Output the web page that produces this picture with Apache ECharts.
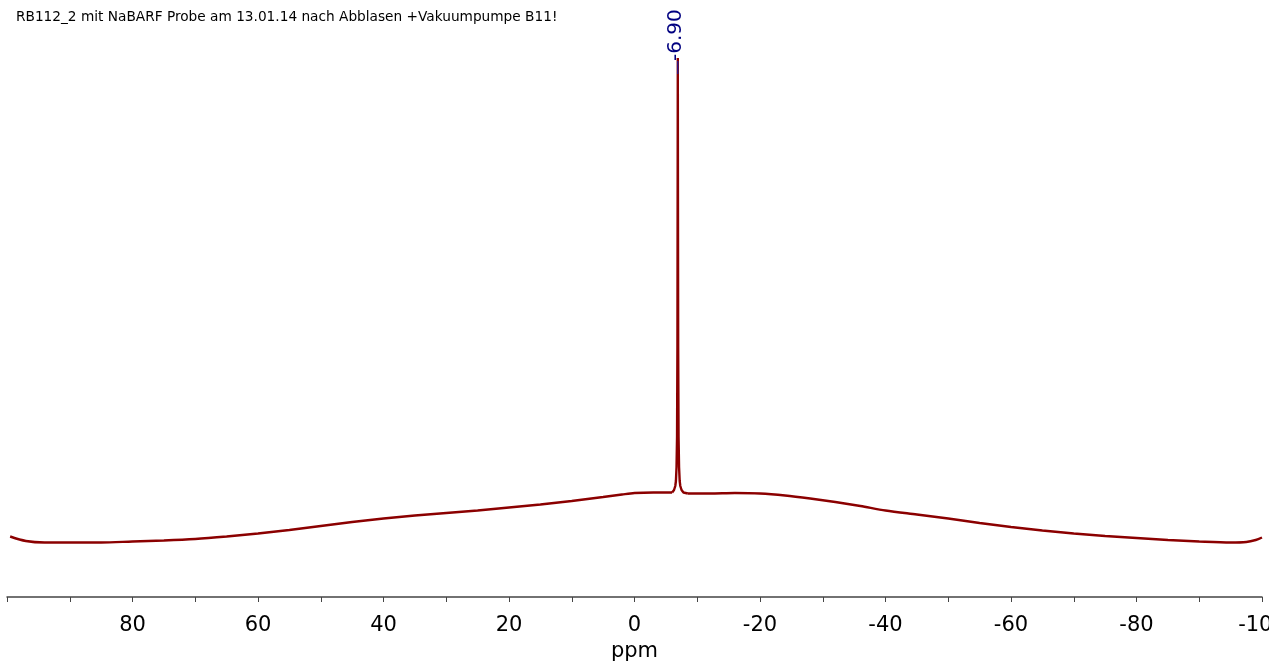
<!DOCTYPE html>
<html>
<head>
<meta charset="utf-8">
<title>B11 NMR</title>
<script src="https://cdn.jsdelivr.net/npm/echarts@6/dist/echarts.min.js"></script>
<style>
  html, body { margin: 0; padding: 0; background: #fff; }
  #chart { width: 1269px; height: 664px; }
</style>
</head>
<body>
<div id="chart"></div>
<script>
// spectrum: [ppm, intensity]
const baselineLeft = [
  [99.5, 12.1], [97, 11.2], [94, 10.9], [90, 10.9], [85, 10.9], [80, 11.1],
  [75, 11.3], [70, 11.6], [65, 12.1], [60, 12.7], [55, 13.4], [50, 14.2],
  [45, 15.0], [40, 15.7], [35, 16.3], [30, 16.8], [25, 17.3], [20, 17.9],
  [15, 18.5], [10, 19.2], [5, 20.0], [2, 20.5], [0, 20.8], [-3, 20.9], [-6.0, 20.9]
];
const peak = [
  [-6.0, 20.9], [-6.3, 21.4], [-6.5, 22.2], [-6.6, 23.2], [-6.7, 26], [-6.78, 32],
  [-6.84, 50], [-6.88, 85], [-6.90, 107.8], [-6.92, 85], [-6.96, 50], [-7.02, 32],
  [-7.1, 26], [-7.2, 23.2], [-7.3, 22.2], [-7.5, 21.4], [-7.8, 20.9], [-8.5, 20.7]
];
const baselineRight = [
  [-8.5, 20.7], [-12, 20.7], [-16, 20.8], [-20, 20.7], [-24, 20.3], [-28, 19.7],
  [-32, 19.0], [-36, 18.2], [-40, 17.3], [-45, 16.5], [-50, 15.7], [-55, 14.8],
  [-60, 14.0], [-65, 13.3], [-70, 12.7], [-75, 12.2], [-80, 11.8], [-85, 11.4],
  [-90, 11.1], [-95, 10.9], [-97.5, 11.0], [-99, 11.4], [-100, 11.9]
];
// peak pick marker
const peakPick = [[-6.90, 107.2], [-6.90, 104.6]];
const peakLabel = '-6.90';
const titleText = 'RB112_2 mit NaBARF Probe am 13.01.14 nach Abblasen +Vakuumpumpe B11!';

const specColor = '#8b0000';
const specLine = (data, smooth) => ({
  type: 'line',
  data: data,
  symbol: 'none',
  smooth: smooth,
  lineStyle: { color: specColor, width: 2.4 },
  z: 2
});

const chart = echarts.init(document.getElementById('chart'));
chart.setOption({
  animation: false,
  backgroundColor: '#fff',
  title: {
    text: titleText,
    left: 11,
    top: 5,
    textStyle: { fontFamily: 'DejaVu Sans', fontSize: 13.7, fontWeight: 'normal', color: '#000' }
  },
  grid: { left: 7, right: 7, top: 47, bottom: 67, containLabel: false, outerBoundsMode: 'none' },
  xAxis: {
    type: 'value',
    inverse: true,
    min: -100,
    max: 100,
    interval: 10,
    name: 'ppm',
    nameLocation: 'middle',
    nameGap: 42,
    nameTextStyle: { fontFamily: 'DejaVu Sans', fontSize: 21, color: '#000' },
    axisLine: { onZero: false, lineStyle: { color: '#444', width: 1.5 } },
    axisTick: { length: 5, lineStyle: { color: '#444', width: 1 } },
    axisLabel: {
      margin: 18,
      fontFamily: 'DejaVu Sans',
      fontSize: 21,
      color: '#000',
      hideOverlap: false,
      formatter: v => (v % 20 === 0 && v !== 100 ? String(v) : '')
    },
    splitLine: { show: false }
  },
  yAxis: {
    type: 'value',
    min: 0,
    max: 110,
    show: false
  },
  series: [
    specLine(baselineLeft, 0.3),
    specLine(peak, false),
    specLine(baselineRight, 0.3),
    {
      type: 'line',
      data: peakPick,
      symbol: 'none',
      lineStyle: { color: '#1a1aa0', width: 1.2 },
      z: 5,
      markPoint: {
        symbol: 'circle',
        symbolSize: 1,
        itemStyle: { color: 'rgba(0,0,0,0)' },
        data: [{ coord: peakPick[0], value: peakLabel }],
        label: {
          show: true,
          formatter: peakLabel,
          position: 'inside',
          rotate: 90,
          align: 'left',
          verticalAlign: 'middle',
          offset: [0, -2],
          fontFamily: 'DejaVu Sans',
          fontSize: 20,
          color: '#000080'
        }
      }
    }
  ]
});
</script>
</body>
</html>
